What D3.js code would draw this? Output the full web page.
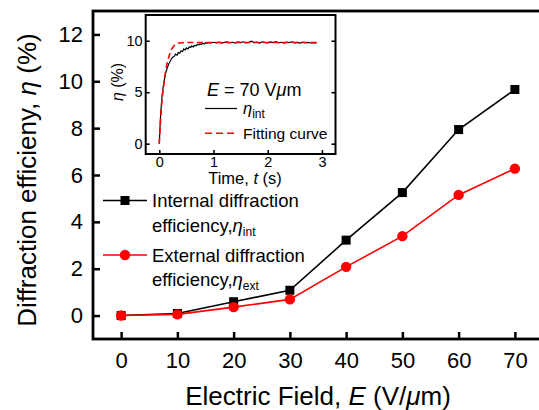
<!DOCTYPE html>
<html><head><meta charset="utf-8">
<script src="https://cdn.jsdelivr.net/npm/d3@7"></script>
<style>body{margin:0;background:#fff}svg{display:block}</style>
</head><body><svg id="c" width="539" height="410"></svg>
<script>
// ---- data ----
const fields = [0, 10, 20, 30, 40, 50, 60, 70];
const internalEff = [0, 0.09, 0.59, 1.08, 3.22, 5.25, 7.94, 9.65];
const externalEff = [0, 0.05, 0.36, 0.69, 2.08, 3.39, 5.15, 6.27];
const xTicks = [0, 10, 20, 30, 40, 50, 60, 70];
const yTicks = [0, 2, 4, 6, 8, 10, 12];

const insetTime = [0,0.02,0.04,0.06,0.08,0.10,0.12,0.15,0.18,0.20,0.23,0.25,0.28,0.30,0.33,0.35,0.38,0.40,0.43,0.45,0.48,0.50,0.53,0.55,0.58,0.60,0.63,0.65,0.68,0.70,0.73,0.75,0.78,0.80,0.83,0.85,0.88,0.90,0.95,1.00,
  1.05,1.10,1.15,1.20,1.25,1.30,1.35,1.40,1.45,1.50,1.55,1.60,1.65,1.70,1.75,1.80,1.85,1.90,1.95,2.00,2.05,2.10,2.15,2.20,2.25,2.30,2.35,2.40,2.45,2.50,2.55,2.60,2.65,2.70,2.75,2.80,2.85,2.90];
const insetEta = [0,2.3,3.9,5.0,5.8,6.4,6.9,7.4,7.8,8.0,8.3,8.4,8.5,8.7,8.6,8.85,8.8,9.0,8.95,9.2,9.1,9.3,9.2,9.4,9.35,9.5,9.4,9.55,9.5,9.65,9.6,9.7,9.65,9.75,9.7,9.8,9.75,9.8,9.78,9.85,
  9.8,9.86,9.78,9.84,9.9,9.8,9.85,9.78,9.88,9.82,9.9,9.8,9.84,9.95,9.82,9.86,9.78,9.9,9.84,9.8,9.88,9.82,9.92,9.8,9.85,9.78,9.86,9.82,9.9,9.8,9.84,9.78,9.86,9.8,9.84,9.78,9.82,9.8];
const fitTime = [0,0.02,0.04,0.06,0.08,0.10,0.12,0.14,0.16,0.18,0.20,0.22,0.25,0.28,0.30,0.35,0.40,0.50,0.60,0.80,1.0,1.5,2.0,2.5,2.9];
const fitEta = [0,1.9,3.5,4.7,5.6,6.4,7.1,7.7,8.1,8.5,8.8,9.1,9.35,9.55,9.65,9.75,9.8,9.82,9.83,9.83,9.83,9.83,9.83,9.83,9.83];
const insetXTicks = [0, 1, 2, 3];
const insetYTicks = [0, 5, 10];

// ---- setup ----
const FONT = "'Liberation Sans', Arial, Helvetica, sans-serif";
const svg = d3.select("#c").style("font-family", FONT);

const x = d3.scaleLinear().domain([-5, 75]).range([93, 543]);
const y = d3.scaleLinear().domain([-1, 13]).range([339, 11]);

// main axes
const gx = svg.append("g").attr("transform", "translate(0,339)")
  .call(d3.axisBottom(x).tickValues(xTicks).tickFormat(d3.format("d")).tickSizeInner(-7).tickSizeOuter(0).tickPadding(13));
const gy = svg.append("g").attr("transform", "translate(93,0)")
  .call(d3.axisLeft(y).tickValues(yTicks).tickFormat(d3.format("d")).tickSizeInner(-7).tickSizeOuter(0).tickPadding(10));
[gx, gy].forEach(g => {
  g.select(".domain").remove();
  g.selectAll(".tick line").attr("stroke", "#000").attr("stroke-width", 2.5);
  g.selectAll(".tick text").attr("fill", "#000").style("font-size", "22px").style("font-family", FONT);
});

// frame (right edge lies beyond the visible area)
svg.append("rect").attr("x", x(-5)).attr("y", y(13)).attr("width", x(75) - x(-5) + 2)
  .attr("height", y(-1) - y(13)).attr("fill", "none").attr("stroke", "#000").attr("stroke-width", 2.8);

// axis titles
svg.append("text").attr("x", 318).attr("y", 405).attr("text-anchor", "middle")
  .style("font-size", "26px")
  .call(t => {
    t.append("tspan").text("Electric Field, ");
    t.append("tspan").style("font-style", "italic").text("E");
    t.append("tspan").text(" (V/");
    t.append("tspan").style("font-style", "italic").text("\u03bc");
    t.append("tspan").text("m)");
  });
svg.append("text").attr("transform", "translate(35.5,180) rotate(-90)").attr("text-anchor", "middle")
  .style("font-size", "26px")
  .call(t => {
    t.append("tspan").text("Diffraction efficieny, ");
    t.append("tspan").style("font-style", "italic").text("\u03b7");
    t.append("tspan").text(" (%)");
  });

// main series
const line = d3.line().x((d, i) => x(fields[i])).y(d => y(d));
svg.append("path").datum(internalEff).attr("d", line).attr("fill", "none").attr("stroke", "#000").attr("stroke-width", 1.6);
svg.append("path").datum(externalEff).attr("d", line).attr("fill", "none").attr("stroke", "#ff0000").attr("stroke-width", 1.6);
svg.append("g").selectAll("rect").data(internalEff).join("rect")
  .attr("x", (d, i) => x(fields[i]) - 4.5).attr("y", d => y(d) - 4.5)
  .attr("width", 9).attr("height", 9).attr("fill", "#000");
svg.append("g").selectAll("circle").data(externalEff).join("circle")
  .attr("cx", (d, i) => x(fields[i])).attr("cy", d => y(d)).attr("r", 5.2).attr("fill", "#ff0000");

// main legend
const lg = svg.append("g").style("font-size", "18.5px");
lg.append("line").attr("x1", 103).attr("x2", 147).attr("y1", 200.5).attr("y2", 200.5).attr("stroke", "#000").attr("stroke-width", 1.6);
lg.append("rect").attr("x", 125 - 4.5).attr("y", 200.5 - 4.5).attr("width", 9).attr("height", 9).attr("fill", "#000");
lg.append("text").attr("x", 152).attr("y", 207).text("Internal diffraction");
lg.append("text").attr("x", 152).attr("y", 232).call(t => {
  t.append("tspan").text("efficiency,");
  t.append("tspan").style("font-style", "italic").text("\u03b7");
  t.append("tspan").attr("dy", 4).style("font-size", "12px").text("int");
});
lg.append("line").attr("x1", 103).attr("x2", 147).attr("y1", 255).attr("y2", 255).attr("stroke", "#ff0000").attr("stroke-width", 1.6);
lg.append("circle").attr("cx", 125).attr("cy", 255).attr("r", 5.2).attr("fill", "#ff0000");
lg.append("text").attr("x", 152).attr("y", 261.5).text("External diffraction");
lg.append("text").attr("x", 152).attr("y", 286).call(t => {
  t.append("tspan").text("efficiency,");
  t.append("tspan").style("font-style", "italic").text("\u03b7");
  t.append("tspan").attr("dy", 4).style("font-size", "12px").text("ext");
});

// ---- inset ----
const ix = d3.scaleLinear().domain([-0.25, 3.25]).range([145.7, 335.5]);
const iy = d3.scaleLinear().domain([-1, 12.5]).range([154, 15]);
const ins = svg.append("g");
ins.append("rect").attr("x", ix(-0.25)).attr("y", iy(12.5)).attr("width", ix(3.25) - ix(-0.25))
  .attr("height", iy(-1) - iy(12.5)).attr("fill", "#fff");

const igx = ins.append("g").attr("transform", `translate(0,${iy(-1)})`)
  .call(d3.axisBottom(ix).tickValues(insetXTicks).tickFormat(d3.format("d")).tickSizeInner(-4).tickSizeOuter(0).tickPadding(3));
const igy = ins.append("g").attr("transform", `translate(${ix(-0.25)},0)`)
  .call(d3.axisLeft(iy).tickValues(insetYTicks).tickFormat(d3.format("d")).tickSizeInner(-4).tickSizeOuter(0).tickPadding(3));
const igr = ins.append("g").attr("transform", `translate(${ix(3.25)},0)`)
  .call(d3.axisRight(iy).tickValues(insetYTicks).tickSizeInner(-4).tickSizeOuter(0).tickFormat(""));
[igx, igy, igr].forEach(g => {
  g.select(".domain").remove();
  g.selectAll(".tick line").attr("stroke", "#000").attr("stroke-width", 1.6);
  g.selectAll(".tick text").attr("fill", "#000").style("font-size", "14.5px").style("font-family", FONT);
});

// inset curves
const mLine = d3.line().x((d, i) => ix(insetTime[i])).y(d => iy(d));
const fLine = d3.line().x((d, i) => ix(fitTime[i])).y(d => iy(d)).curve(d3.curveMonotoneX);
ins.append("path").datum(insetEta).attr("d", mLine).attr("fill", "none").attr("stroke", "#000").attr("stroke-width", 1.2);
ins.append("path").datum(fitEta).attr("d", fLine).attr("fill", "none").attr("stroke", "#ff0000")
  .attr("stroke-width", 1.6).attr("stroke-dasharray", "6,3.5");

ins.append("rect").attr("x", ix(-0.25)).attr("y", iy(12.5)).attr("width", ix(3.25) - ix(-0.25))
  .attr("height", iy(-1) - iy(12.5)).attr("fill", "none").attr("stroke", "#000").attr("stroke-width", 2);

// inset labels
ins.append("text").attr("x", 245).attr("y", 184).attr("text-anchor", "middle").style("font-size", "16.5px")
  .call(t => {
    t.append("tspan").text("Time, ");
    t.append("tspan").style("font-style", "italic").text("t");
    t.append("tspan").text(" (s)");
  });
ins.append("text").attr("transform", "translate(123,82) rotate(-90)").attr("text-anchor", "middle").style("font-size", "16px")
  .call(t => {
    t.append("tspan").style("font-style", "italic").text("\u03b7");
    t.append("tspan").text(" (%)");
  });
ins.append("text").attr("x", 207).attr("y", 95.5).style("font-size", "18px")
  .call(t => {
    t.append("tspan").style("font-style", "italic").text("E");
    t.append("tspan").text(" = 70 V");
    t.append("tspan").style("font-style", "italic").text("\u03bc");
    t.append("tspan").text("m");
  });
ins.append("line").attr("x1", 205).attr("x2", 237).attr("y1", 108.5).attr("y2", 108.5).attr("stroke", "#000").attr("stroke-width", 1.2);
ins.append("text").attr("x", 243).attr("y", 113.5).style("font-size", "16.5px")
  .call(t => {
    t.append("tspan").style("font-style", "italic").text("\u03b7");
    t.append("tspan").attr("dy", 4).style("font-size", "12px").text("int");
  });
ins.append("line").attr("x1", 205).attr("x2", 237).attr("y1", 133.3).attr("y2", 133.3).attr("stroke", "#ff0000")
  .attr("stroke-width", 1.6).attr("stroke-dasharray", "7,4");
ins.append("text").attr("x", 243).attr("y", 138.5).style("font-size", "15.5px").text("Fitting curve");
</script></body></html>
